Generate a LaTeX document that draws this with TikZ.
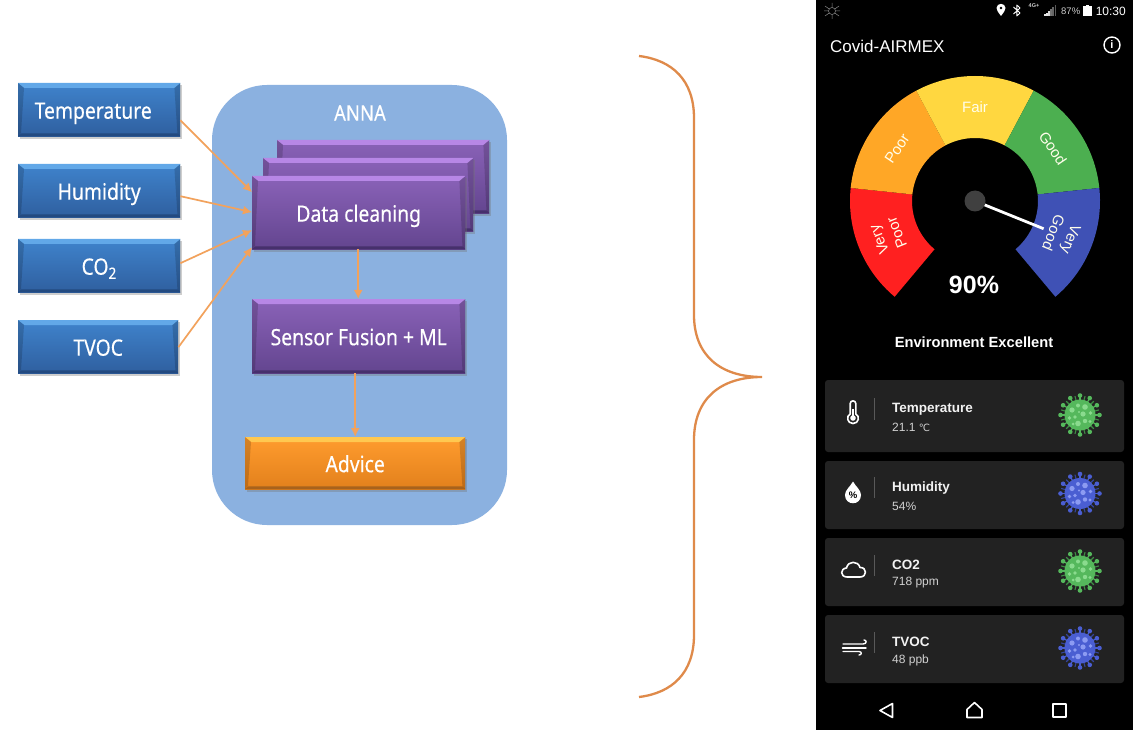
\documentclass[tikz,border=0pt]{standalone}
\usepackage{fontspec}
\setmainfont{Liberation Sans}
\newfontfamily\cond[FakeStretch=0.86,FakeBold=0.35]{Noto Sans}
\newfontfamily\symb{DejaVu Sans}
\usetikzlibrary{arrows.meta}
\definecolor{lineor}{HTML}{F2A25C}
\definecolor{bracecol}{HTML}{DF8A4A}
\definecolor{panel}{HTML}{8BB1E0}
\definecolor{cardbg}{HTML}{222222}
\definecolor{vgreen}{HTML}{55B85C}
\definecolor{vgreenL}{HTML}{8ADB8E}
\definecolor{vgreenD}{HTML}{3E8E45}
\definecolor{vblue}{HTML}{4A5ED2}
\definecolor{vblueL}{HTML}{8C9BF2}
\definecolor{vblueD}{HTML}{34449C}
\definecolor{segred}{HTML}{FF2020}
\definecolor{segor}{HTML}{FFA726}
\definecolor{segye}{HTML}{FFD740}
\definecolor{seggr}{HTML}{4CAF50}
\definecolor{segbl}{HTML}{3F51B5}
\definecolor{blTop}{HTML}{62A8E8}\definecolor{blA}{HTML}{3F83CC}\definecolor{blB}{HTML}{2F5F9F}\definecolor{blBot}{HTML}{234A80}
\definecolor{puTop}{HTML}{B787E6}\definecolor{puA}{HTML}{8A62B8}\definecolor{puB}{HTML}{63458F}\definecolor{puBot}{HTML}{46306C}
\definecolor{orTop}{HTML}{FFC850}\definecolor{orA}{HTML}{FF9C2E}\definecolor{orB}{HTML}{E2801C}\definecolor{orBot}{HTML}{A8621C}
\tikzset{
  conn/.style={draw=lineor,line width=1.7pt,-{Latex[length=9pt,width=9pt]}},
  boxlabel/.style={text=white,text height=18pt,text depth=0pt,font=\cond\fontsize{22.5}{24}\selectfont},
  gaugelabel/.style={text=white!92!yellow,font=\fontsize{15}{19}\selectfont,align=center,inner sep=0pt},
  cardhead/.style={anchor=west,inner sep=0pt,text=white!95!black,font=\bfseries\fontsize{13.5}{15}\selectfont},
  cardval/.style={anchor=west,inner sep=0pt,text=white!82!black,font=\fontsize{12}{14}\selectfont},
  icon/.style={draw=white,line width=1.6pt,line join=round,line cap=round},
  sep/.style={draw=white!35!black,line width=.6pt},
  card/.style={fill=cardbg,rounded corners=3pt}
}
% name, x1,y1,x2,y2, text, colour prefix
\newcommand{\bevelbox}[7]{%
  \fill[black!55,opacity=.35] (#2+2,#3+2) rectangle (#4+2,#5+3);
  \node[shade,top color=#7A,bottom color=#7B,minimum width=#4pt-#2pt,minimum height=#5pt-#3pt,
        inner sep=0pt,anchor=north west,boxlabel] (#1) at (#2,#3) {#6};
  \fill[#7Top] (#1.north west) -- (#1.north east) -- ++(-6,5) -- ++(-#4+#2+12,0) -- cycle;
  \fill[#7Bot] (#1.south west) -- (#1.south east) -- ++(-3,-3) -- ++(-#4+#2+6,0) -- cycle;
  \fill[black,opacity=.16] (#1.north west) -- ++(6,5) -- ++(-3,#5-#3-8) -- (#1.south west) -- cycle;
  \fill[black,opacity=.16] (#1.north east) -- ++(-6,5) -- ++(3,#5-#3-8) -- (#1.south east) -- cycle;
}
% virus: x, y, body, light, dark
\newcommand{\virus}[5]{%
  \begin{scope}[shift={(#1,#2)},y=1pt]
    \foreach \a in {0,30,...,330}{
      \draw[#3,line width=1.2pt] (\a:14) -- (\a:19);
      \fill[#3] (\a:19.5) circle (2.3);
    }
    \foreach \a in {15,45,...,345}{
      \draw[#5,line width=1.1pt] (\a:14) -- (\a:19.5);
    }
    \fill[#3] (0,0) circle (15.5);
    \foreach \px/\py/\pr in {-8/5/2.6,-2/9.5/2,5/8/2.8,10.5/2/1.9,3/1/2.6,-5/-2/1.9,-10.5/-3/1.9,-2/-8.5/2.8,5/-6/2.2,10/-6.5/1.7,-7/-9/1.5,-1/3/1.2}{
      \fill[#4] (\px,\py) circle (\pr);
    }
  \end{scope}
}
\newcommand{\seg}[3]{\fill[#3] (#1:63) arc[start angle=#1,end angle=#2,radius=63] -- (#2:125) arc[start angle=#2,end angle=#1,radius=125] -- cycle;}
\begin{document}
\begin{tikzpicture}[x=1pt,y=-1pt]
\useasboundingbox (0,0) rectangle (1133,730);
\fill[white] (0,0) rectangle (1133,730);

% ANNA panel
\fill[panel,rounded corners=55pt] (212,85) rectangle (507,525);
\node[text=white,font=\cond\fontsize{21.5}{24}\selectfont] (anna) at (360,113) {ANNA};

% input boxes
\bevelbox{temp}{18}{83}{180}{136}{\hspace*{-12pt}Temperature}{bl}
\bevelbox{hum}{18}{164}{180}{217}{Humidity}{bl}
\bevelbox{cotwo}{18}{239}{180}{292}{CO\textsubscript{2}}{bl}
\bevelbox{tvoc}{18}{320}{178}{373}{TVOC}{bl}

% stacked purple boxes
\bevelbox{back}{277}{140}{489}{213}{}{pu}
\bevelbox{middle}{263}{158}{473}{231}{}{pu}
\bevelbox{clean}{252}{176}{465}{249}{Data cleaning}{pu}
\bevelbox{fusion}{252}{299}{465}{373}{Sensor Fusion + ML}{pu}
\bevelbox{advice}{245}{437}{465}{489}{Advice}{or}

% connectors
\draw[conn] ([yshift=-10.5pt]temp.east) -- ([yshift=20.5pt]clean.west);
\draw[conn] ([yshift=-5.5pt]hum.east) -- ([yshift=0.5pt]clean.west);
\draw[conn] ([yshift=2.5pt]cotwo.east) -- ([yshift=-17.5pt]clean.west);
\draw[conn] ([yshift=-0.5pt]tvoc.east) -- ([yshift=-34.5pt]clean.west);
\draw[conn] ([xshift=-0.5pt]clean.south) -- ([xshift=-0.5pt]fusion.north);
\draw[conn] ([xshift=-3.5pt]fusion.south) -- (advice.north);

% curly brace
\coordinate (bt) at (639,56);
\coordinate (bm) at (762,377);
\coordinate (bb) at (639,697);
\draw[line width=2.3pt,color=bracecol] (bt) .. controls (672,60) and (694,80) .. (694,118)
  -- (694,315) .. controls (694,355) and (720,377) .. (bm)
  .. controls (720,377) and (694,399) .. (694,440)
  -- (694,635) .. controls (694,673) and (672,693) .. (bb);

% phone
\fill[black] (816,0) rectangle (1133,730);

% status bar
\begin{scope}[draw=white!55!black,line width=.5pt]
  \draw (825,6) -- (839,16) (839,6) -- (825,16) (832,3) -- (832,19) (824,11) -- (840,11);
  \fill[black] (832,11) circle (3.5);
  \draw (832,11) circle (3.5);
\end{scope}
\fill[white,even odd rule] (1001,16) .. controls (998,12) and (996.5,10) .. (996.5,8) .. controls (996.5,2.5) and (1005.5,2.5) .. (1005.5,8) .. controls (1005.5,10) and (1004,12) .. (1001,16) -- cycle (1001,8) circle (1.7);
\draw[white,line width=.9pt,line join=round] (1013.5,7) -- (1020,13) -- (1016.8,16) -- (1016.8,5) -- (1020,8) -- (1013.5,14);
\node[inner sep=0pt,text=white!80!black,font=\bfseries\fontsize{5.5}{6}\selectfont] (fourg) at (1034,6) {4G+};
\foreach \i/\h/\g in {0/1.5/90,1/3/90,2/4.5/85,3/7/45,4/9/40,5/10.5/35}{
  \fill[white!\g!black] (1044+\i*2.1,16) rectangle (1045.7+\i*2.1,16-\h);
}
\node[anchor=west,inner sep=0pt,text=white!80!black,font=\fontsize{9.5}{12}\selectfont] (batt) at (1061,11) {87\%};
\fill[white] (1083,6.5) rectangle (1091.5,16);
\fill[white] (1085.5,5) rectangle (1089,6.5);
\node[anchor=east,inner sep=0pt,text=white,font=\fontsize{12}{15}\selectfont] (clock) at (1126,11) {10:30};

% title bar
\node[anchor=west,inner sep=0pt,text=white,font=\fontsize{17}{20}\selectfont] (title) at (830,46) {Covid-AIRMEX};
\node[circle,draw=white,line width=1.4pt,minimum size=16pt,inner sep=0pt,text=white,font=\bfseries\fontsize{11}{12}\selectfont] (info) at (1112,45) {i};

% gauge
\begin{scope}[shift={(975,201)},y=1pt]
  \seg{230}{174}{segred}
  \seg{174}{118}{segor}
  \seg{118}{62}{segye}
  \seg{62}{6}{seggr}
  \seg{6}{-50}{segbl}
  \node[gaugelabel] (fair) at (90:94) {Fair};
  \node[gaugelabel,rotate=56] (poor) at (146:94) {Poor};
  \node[gaugelabel,rotate=-56] (good) at (34:94) {Good};
  \node[gaugelabel,rotate=112] (vpoor) at (202:94) {Very\\Poor};
  \node[gaugelabel,rotate=-112] (vgood) at (-22:94) {Very\\Good};
  \draw[white,line width=2.8pt] (0,0) -- (-22:74);
  \fill[white!25!black] (0,0) circle (10.5);
\end{scope}
\node[inner sep=0pt,text=white,font=\bfseries\fontsize{25}{28}\selectfont] (pct) at (974,285) {90\%};
\node[inner sep=0pt,text=white,font=\bfseries\fontsize{14.7}{17}\selectfont] (envt) at (974,342) {Environment Excellent};

% cards
\fill[card] (825,380) rectangle (1124,452);
\fill[card] (825,461) rectangle (1124,529);
\fill[card] (825,538) rectangle (1124,606);
\fill[card] (825,615) rectangle (1124,683);
\draw[sep] (874.5,398) -- (874.5,420);
\draw[sep] (874.5,477) -- (874.5,498);
\draw[sep] (874.5,555) -- (874.5,576);
\draw[sep] (874.5,632) -- (874.5,653);

\node[cardhead] (ht) at (892,409) {Temperature};
\node[cardval] (vt) at (892,427) {21.1 {\symb\fontsize{10}{12}\selectfont ℃}};
\node[cardhead] (hh) at (892,488) {Humidity};
\node[cardval] (vh) at (892,506) {54\%};
\node[cardhead] (hc) at (892,565) {CO2};
\node[cardval] (vc) at (892,583) {718 ppm};
\node[cardhead] (hv) at (892,642) {TVOC};
\node[cardval] (vv) at (892,660) {48 ppb};

% thermometer
\draw[icon] (850.2,414) -- (850.2,403.5) .. controls (850.2,400) and (855.8,400) .. (855.8,403.5) -- (855.8,414)
  .. controls (860,416) and (859,423.5) .. (853,423.5) .. controls (847,423.5) and (846,416) .. (850.2,414) -- cycle;
\fill[white] (853,418) circle (2.8);
\draw[white,line width=1.6pt] (853,409) -- (853,418);
% drop
\fill[white] (853,481.5) .. controls (850,487) and (845,490) .. (845,495) .. controls (845,506) and (861,506) .. (861,495) .. controls (861,490) and (856,487) .. (853,481.5) -- cycle;
\node[inner sep=0pt,text=black,font=\bfseries\fontsize{9.5}{10}\selectfont] (dropp) at (853,495) {\%};
% cloud
\draw[icon] (847,577) .. controls (840,577) and (840,568.5) .. (846.5,568) .. controls (848,560.5) and (858,560.5) .. (860,567.5) .. controls (867,567) and (867.5,577) .. (860,577) -- cycle;
% wind
\draw[icon,line width=1.4pt] (843,644) -- (863,644) .. controls (867,644) and (867,640) .. (864,640);
\draw[icon,line width=1.4pt] (842.5,648) -- (866,648);
\draw[icon,line width=1.4pt] (843,651.5) -- (859,651.5) .. controls (862,651.5) and (862,655) .. (859,655);

% viruses
\virus{1080}{415}{vgreen}{vgreenL}{vgreenD}
\virus{1080}{493.5}{vblue}{vblueL}{vblueD}
\virus{1080}{571}{vgreen}{vgreenL}{vgreenD}
\virus{1080}{648}{vblue}{vblueL}{vblueD}

% navigation
\draw[icon] (892.5,703.5) -- (880,710.5) -- (892.5,717.5) -- cycle;
\draw[icon] (967,717.5) -- (967,709.5) -- (974.5,702.5) -- (982,709.5) -- (982,717.5) -- cycle;
\draw[icon] (1053,704) rectangle (1066,717);
\end{tikzpicture}
\end{document}
